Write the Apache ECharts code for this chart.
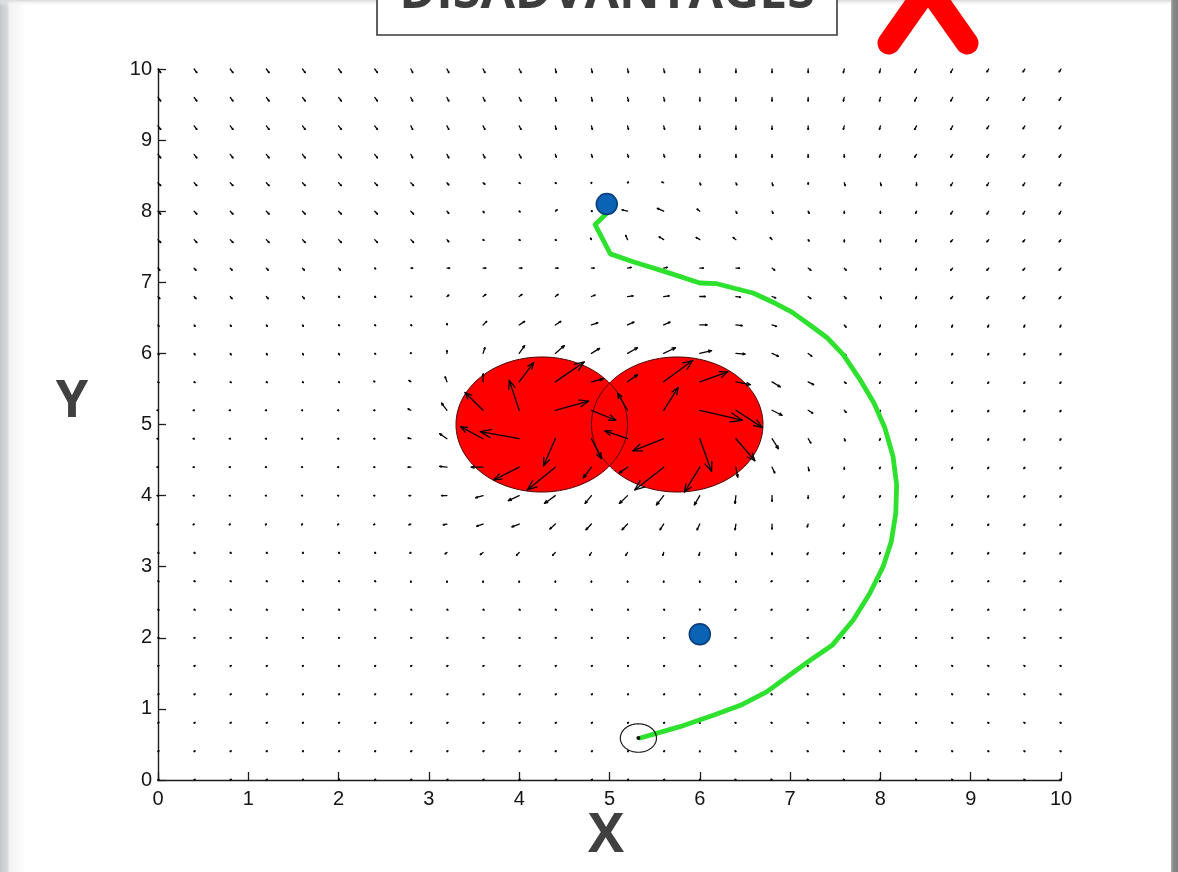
<!DOCTYPE html>
<html>
<head>
<meta charset="utf-8">
<title>Potential field</title>
<script src="https://cdn.jsdelivr.net/npm/echarts@6/dist/echarts.min.js"></script>
<style>
  html, body { margin: 0; padding: 0; background: #ffffff; }
  #chart { width: 1178px; height: 872px; }
</style>
</head>
<body>
<div id="chart"></div>
<script>
// ---- quiver grid (x columns, y rows listed from top to bottom) ----
const fieldX = [0, 0.4, 0.8, 1.2, 1.6, 2, 2.4, 2.8, 3.2, 3.6, 4, 4.4, 4.8, 5.2, 5.6, 6, 6.4, 6.8, 7.2, 7.6, 8, 8.4, 8.8, 9.2, 9.6, 10];
const fieldY = [10, 9.6, 9.2, 8.8, 8.4, 8, 7.6, 7.2, 6.8, 6.4, 6, 5.6, 5.2, 4.8, 4.4, 4, 3.6, 3.2, 2.8, 2.4, 2, 1.6, 1.2, 0.8, 0.4, 0];
// arrow components "u,v" in hundredths of an axis unit; "*n" repeats a pair n times
const fieldRows = [
  "3,-5*7 2,-5*4 1,-5*4 0,-5*4 -1,-5*2 -2,-5*2 -2,-4*3",
  "3,-5*7 2,-5*4 1,-5*4 0,-5*4 -1,-5*2 -2,-5*2 -2,-4*3",
  "3,-5*7 2,-5*4 1,-5*4 0,-5*4 -1,-5*2 -2,-5*2 -2,-4*3",
  "3,-5*7 2,-5*4 1,-4*4 0,-4*5 -1,-4 -2,-4*5",
  "3,-4*8 2,-3 2,-2 1,-1 1,-1 0,-1 1,1 -2,1 1,-3 1,-3 1,-4 0,-2 1,-4 1,-4 0,-4 -2,-4*4",
  "3,-4*8 2,-3 1,-2 1,-1 2,2 1,0 -6,2 -7,4 -3,3 1,-3 1,-3 1,-3 0,-3 0,-3 -1,-3 -2,-4*4",
  "3,-4*8 2,-3 1,-1 1,-1 1,-1 -1,2 -2,6 -5,4 -4,3 -3,3 -2,3 1,-2 0,-3 0,-3 -1,-3 -2,-3*4",
  "2,-3*6 1,-1 2,0 3,0*5 4,1 4,1 4,0 4,0 3,-3 3,-3 2,-3 0,-2 -1,-3 -2,-3*4",
  "2,-3*5 1,-1 1,-1 1,0 2,2 3,3 3,3 3,3 4,2 6,1 6,1 6,0 5,-1 4,-2 3,-3 2,-3 1,-3 -1,-3 -2,-3*4",
  "1,-2*5 1,-1*3 0,2 4,5 6,5 6,5 7,3 7,4 7,4 8,0 7,-1 5,-2 3,-3 2,-3 -1,-3*6",
  "1,-2*6 1,-1 0,1 0,4 2,8 6,11 10,11 9,7 11,8 13,8 13,4 10,-1 7,-4 4,-4 2,-3 -1,-2*6",
  "1,-1*6 -1,1 -2,2 -2,7 0,11 16,27 32,28 13,4 11,10 32,30 31,14 16,-4 9,-7 6,-4 2,-2 -1,-2*6",
  "-1,0*7 -3,2 -6,10 -20,25 -11,42 37,13 27,-14 -11,24 16,32 47,-14 29,-24 11,-7 5,-4 2,-3 -1,-2*6",
  "-1,0*7 -3,1 -8,7 -25,17 -43,10 -13,-38 11,-28 -25,11 -34,-17 13,-46 21,-31 7,-14 3,-6 1,-3 -1,-2*6",
  "-1,0*7 -3,0 -8,1 -13,0 -28,-18 -31,-32 -9,-15 -9,-8 -32,-32 -17,-35 2,-14 3,-8 1,-5 0,-3 -1,-2*6",
  "-1,0*7 -2,0 -6,0 -8,-3 -12,-7 -12,-11 -7,-11 -9,-11 -8,-13 -6,-13 -1,-11 0,-8 0,-4 -1,-3 -1,-2*6",
  "-1,-1*7 -2,-1 -4,-1 -7,-3 -8,-4 -6,-7 -6,-8 -6,-8 -4,-8 -3,-8 -1,-8 0,-7 -1,-4 -1,-3 -1,-2*6",
  "1,-1*7 -1,-1 -2,-2 -3,-3 -3,-4 -3,-4 -2,-4 -2,-4 -1,-4 -1,-4 0,-4 0,-3 -1,-3 -1,-2 -1,-2*6",
  "1,-1*7 0,-2*10 -1,-1*9",
  "1,-1*15 0,-1 -1,-1*10",
  "1,0*15 0,0 -1,0*10",
  "1,1*15 0,1 -1,1*10",
  "1,1*15 0,1 -1,1*10",
  "1,1*15 0,1 -1,1*10",
  "1,1*15 0,1 -1,1*10",
  "1,1*15 0,1 -1,1*10"
];

// ---- obstacles ----
const obstacleX = [4.25, 5.75];
const obstacleY = [5.0, 5.0];
const obstacleR = [0.95, 0.95];

// ---- trajectory ----
const pathX = [4.97, 4.84, 5.01, 5.26, 5.64, 6.00, 6.19, 6.37, 6.59, 6.81, 7.02, 7.22, 7.41, 7.59, 7.78, 7.93, 8.05, 8.14, 8.18, 8.17, 8.12, 8.03, 7.88, 7.70, 7.47, 7.23, 7.00, 6.74, 6.45, 6.15, 5.78, 5.53, 5.34];
const pathY = [7.97, 7.81, 7.40, 7.29, 7.14, 6.99, 6.98, 6.92, 6.85, 6.72, 6.58, 6.40, 6.22, 5.98, 5.62, 5.30, 4.95, 4.55, 4.15, 3.75, 3.35, 3.00, 2.62, 2.25, 1.90, 1.69, 1.48, 1.24, 1.05, 0.91, 0.75, 0.66, 0.59];

// ---- robot marker and points ----
const robotX = [5.32];
const robotY = [0.59];
const robotR = [0.2];
const pointX = [4.97, 6.0];
const pointY = [8.10, 2.05];

// ---- texts ----
const titleText = 'DISADVANTAGES';
const xName = 'X';
const yName = 'Y';

function expandRow(str) {
  const out = [];
  str.trim().split(/\s+/).forEach(tok => {
    const parts = tok.split('*');
    const n = parts.length > 1 ? parseInt(parts[1], 10) : 1;
    const uv = parts[0].split(',').map(Number);
    for (let k = 0; k < n; k++) out.push(uv);
  });
  return out;
}

const arrowData = [];
fieldRows.forEach((row, j) => {
  const pairs = expandRow(row);
  pairs.forEach((uv, i) => {
    arrowData.push([fieldX[i], fieldY[j], uv[0] / 100, uv[1] / 100]);
  });
});

const obstacleData = obstacleX.map((x, k) => [x, obstacleY[k], obstacleR[k]]);
const robotData = robotX.map((x, k) => [x, robotY[k], robotR[k]]);
const pathData = pathX.map((x, k) => [x, pathY[k]]);
const pointData = pointX.map((x, k) => [x, pointY[k]]);

function ellipsePoints(api, cx, cy, r) {
  const pts = [];
  const n = 120;
  for (let k = 0; k < n; k++) {
    const t = (k / n) * Math.PI * 2;
    pts.push(api.coord([cx + r * Math.cos(t), cy + r * Math.sin(t)]));
  }
  return pts;
}

function renderDisc(fill, stroke, lineWidth) {
  return function (params, api) {
    const pts = ellipsePoints(api, api.value(0), api.value(1), api.value(2));
    return {
      type: 'polygon',
      shape: { points: pts },
      style: { fill: fill, stroke: stroke, lineWidth: lineWidth }
    };
  };
}

const ARROW_COLOR = '#050505';

function renderArrow(params, api) {
  const x = api.value(0), y = api.value(1), u = api.value(2), v = api.value(3);
  const p0 = api.coord([x, y]);
  const p1 = api.coord([x + u, y + v]);
  const dx = p1[0] - p0[0], dy = p1[1] - p0[1];
  const L = Math.hypot(dx, dy);
  if (L < 0.4) {
    return { type: 'circle', shape: { cx: p0[0], cy: p0[1], r: 0.8 }, style: { fill: '#222' } };
  }
  const ang = Math.atan2(dy, dx);
  const h = Math.max(1.5, 0.3 * L);
  const a = 0.38;
  const h1 = [p1[0] - h * Math.cos(ang - a), p1[1] - h * Math.sin(ang - a)];
  const h2 = [p1[0] - h * Math.cos(ang + a), p1[1] - h * Math.sin(ang + a)];
  return {
    type: 'group',
    children: [
      { type: 'line', shape: { x1: p0[0], y1: p0[1], x2: p1[0], y2: p1[1] }, style: { stroke: ARROW_COLOR, lineWidth: 1.3, lineCap: 'round' } },
      { type: 'polyline', shape: { points: [h1, p1, h2] }, style: { stroke: ARROW_COLOR, lineWidth: 1.3, fill: null, lineJoin: 'round' } }
    ]
  };
}

const axisCommon = {
  type: 'value',
  min: 0,
  max: 10,
  interval: 1,
  axisLine: { show: true, onZero: false, lineStyle: { color: '#1c1c1c', width: 1.4 } },
  axisTick: { show: true, inside: true, length: 8, lineStyle: { color: '#1c1c1c', width: 1.3 } },
  splitLine: { show: false },
  axisLabel: { fontSize: 20, color: '#151515', fontFamily: 'Liberation Sans, Arial, sans-serif' }
};

const chart = echarts.init(document.getElementById('chart'), null, { renderer: 'canvas' });
chart.setOption({
  backgroundColor: '#ffffff',
  animation: false,
  grid: { left: 158, right: 117, top: 69, bottom: 92, containLabel: false },
  xAxis: Object.assign({}, axisCommon, { axisLabel: Object.assign({}, axisCommon.axisLabel, { margin: 9 }) }),
  yAxis: Object.assign({}, axisCommon, { axisLabel: Object.assign({}, axisCommon.axisLabel, { margin: 6 }) }),
  graphic: [
    // slide edges
    { type: 'rect', shape: { x: 0, y: 0, width: 26, height: 872 }, z: -10,
      style: { fill: new echarts.graphic.LinearGradient(0, 0, 1, 0, [
        { offset: 0, color: '#c4c6c8' }, { offset: 0.3, color: '#d8dadb' }, { offset: 0.35, color: '#f2f2f2' }, { offset: 1, color: '#ffffff' }]) } },
    { type: 'rect', shape: { x: 0, y: 0, width: 1178, height: 6 }, z: -10,
      style: { fill: new echarts.graphic.LinearGradient(0, 0, 0, 1, [
        { offset: 0, color: '#d6d8d9' }, { offset: 1, color: 'rgba(255,255,255,0)' }]) } },
    { type: 'rect', shape: { x: 1171, y: 0, width: 7, height: 872 }, z: -10,
      style: { fill: new echarts.graphic.LinearGradient(0, 0, 1, 0, [
        { offset: 0, color: '#b5b5b5' }, { offset: 0.3, color: '#8a8a8a' }, { offset: 1, color: '#7e7e7e' }]) } },
    // title box
    { type: 'rect', shape: { x: 377, y: -20, width: 460, height: 55 }, z: 20,
      style: { fill: '#ffffff', stroke: '#3a3a3a', lineWidth: 1.6 } },
    { type: 'text', x: 607, y: 19, z: 21,
      style: { text: titleText, fill: '#3d3d3d', font: 'bold 50px "Open Sans", sans-serif', textAlign: 'center', textVerticalAlign: 'bottom' } },
    // red cross
    { type: 'line', z: 20, shape: { x1: 889, y1: 43, x2: 970, y2: -72 }, style: { stroke: '#ff0000', lineWidth: 23, lineCap: 'round' } },
    { type: 'line', z: 20, shape: { x1: 967, y1: 43, x2: 886, y2: -72 }, style: { stroke: '#ff0000', lineWidth: 23, lineCap: 'round' } },
    // axis names
    { type: 'text', x: 72, y: 402, z: 20,
      style: { text: yName, fill: '#404040', font: 'bold 52px "Open Sans", sans-serif', textAlign: 'center', textVerticalAlign: 'middle' } },
    { type: 'text', x: 606, y: 837, z: 20,
      style: { text: xName, fill: '#404040', font: 'bold 54px "Open Sans", sans-serif', textAlign: 'center', textVerticalAlign: 'middle' } }
  ],
  series: [
    { type: 'custom', name: 'obstacle', data: obstacleData, renderItem: renderDisc('#ff0000', null, 0), z: 1, clip: false, silent: true },
    { type: 'custom', name: 'obstacle edge', data: obstacleData, renderItem: renderDisc(null, '#4a0808', 1), z: 2, clip: false, silent: true },
    { type: 'custom', name: 'field', data: arrowData, renderItem: renderArrow, z: 3, clip: false, silent: true },
    { type: 'line', name: 'path', data: pathData, showSymbol: false, smooth: false, z: 4,
      lineStyle: { color: '#2fe12f', width: 4.8, cap: 'round', join: 'round' } },
    { type: 'custom', name: 'robot', data: robotData, renderItem: renderDisc(null, '#1a1a1a', 1.2), z: 5, clip: false, silent: true },
    { type: 'scatter', name: 'robot centre', data: [[robotX[0], robotY[0]]], symbolSize: 4, z: 6,
      itemStyle: { color: '#111111', opacity: 1 } },
    { type: 'scatter', name: 'points', data: pointData, symbolSize: 21, z: 7,
      itemStyle: { color: '#0a63b4', borderColor: '#0a3b78', borderWidth: 1.5, opacity: 1 } }
  ]
});
</script>
</body>
</html>
